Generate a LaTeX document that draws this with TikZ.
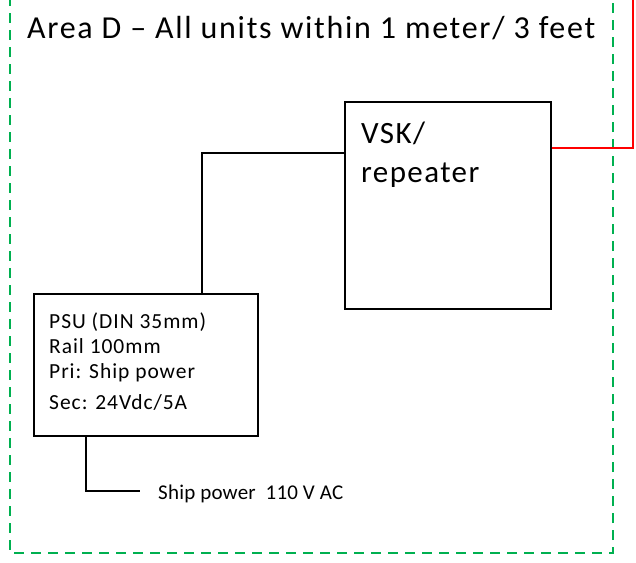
\documentclass[tikz,border=0pt]{standalone}
\usepackage{fontspec}
\setmainfont{Carlito}
\newfontfamily\widecal[LetterSpace=4.5]{Carlito}
\newfontfamily\titlecal[LetterSpace=5.3]{Carlito}
\newfontfamily\slightcal[LetterSpace=1]{Carlito}
\usepackage{xcolor}
\usetikzlibrary{positioning}

\definecolor{areagreen}{RGB}{0,176,80}

\tikzset{
  unitbox/.style={draw, line width=1.5pt, rectangle, anchor=north west, inner sep=0pt},
  boxtext/.style={anchor=north west, align=left, inner sep=0pt},
  wire/.style={line width=1.5pt},
  redlink/.style={draw=red, line width=2pt},
  arealine/.style={draw=areagreen, line width=2pt, dash pattern=on 10pt off 7pt},
}

\begin{document}
\begin{tikzpicture}[x=1pt, y=-1pt]
  \useasboundingbox (0,0) rectangle (636,562);

  % area border
  \draw[arealine] (10,-4) |- (613,553) -- (613,-4);
  \node[anchor=base west, inner sep=0pt, font=\titlecal\fontsize{32}{38}\selectfont] (title) at (27,38) {Area D – All units within 1 meter/ 3 feet};

  % units
  \node[unitbox, minimum width=206pt, minimum height=207pt] (vsk) at (344,101) {};
  \node[boxtext, font=\widecal\fontsize{31}{39}\selectfont] (vsktext) at (361,122) {VSK/\\repeater};

  \node[unitbox, minimum width=224pt, minimum height=142pt] (psu) at (33,293) {};
  \node[boxtext, font=\widecal\fontsize{21.5}{25}\selectfont] (psutext) at (49,313) {PSU (DIN 35mm)\\Rail 100mm\\Pri: Ship power\\[6pt]Sec: 24Vdc/5A};

  \node[anchor=base west, inner sep=0pt, font=\slightcal\fontsize{21}{25}\selectfont] (mains) at (158,499) {Ship power\ \ 110 V AC};

  % wiring
  \coordinate (mainsend) at (140,491);
  \coordinate (uplink) at (633,-4);
  \draw[wire] ([yshift=-52pt]vsk.north west) -| ([xshift=56pt]psu.north);
  \draw[wire] ([xshift=-60pt]psu.south) |- (mainsend);
  \draw[redlink] ([yshift=-47pt]vsk.north east) -| (uplink);
\end{tikzpicture}
\end{document}
